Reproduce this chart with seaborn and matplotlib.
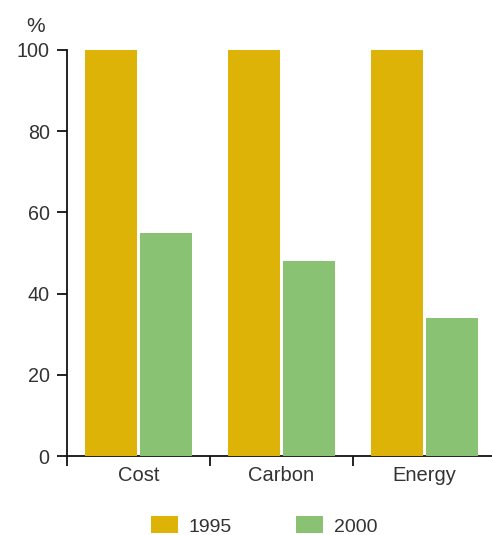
import matplotlib
matplotlib.use("Agg")
import matplotlib.pyplot as plt
import seaborn as sns
import pandas as pd
from matplotlib.patches import Patch
from matplotlib.ticker import FixedLocator

# Indexed values (1995 = 100)
categories = ["Cost", "Carbon", "Energy"]
years = ["1995", "2000"]
values_1995 = [100, 100, 100]
values_2000 = [55, 48, 34]
y_ticks = [0, 20, 40, 60, 80, 100]

palette = {"1995": "#DDB308", "2000": "#89C273"}
text_color = "#333333"

df = pd.DataFrame({
    "category": categories * 2,
    "year": [years[0]] * 3 + [years[1]] * 3,
    "value": values_1995 + values_2000,
})

sns.set_theme(style="white")
plt.rcParams["font.family"] = ["Liberation Sans", "DejaVu Sans"]
plt.rcParams["text.color"] = text_color

fig = plt.figure(figsize=(4.92, 5.35), dpi=100)
ax = fig.add_axes([67 / 492, 79 / 535, 429 / 492, 406 / 535])

sns.barplot(data=df, x="category", y="value", hue="year", order=categories,
            hue_order=years, palette=palette, width=0.762, gap=0.046,
            saturation=1, legend=False, ax=ax, zorder=3, linewidth=0)

ax.set_xlim(-0.5, 2.5)
ax.set_ylim(0, 100)
ax.set_xlabel("")
ax.set_ylabel("")
ax.set_yticks(y_ticks)

for side in ("top", "right"):
    ax.spines[side].set_visible(False)
for side in ("left", "bottom"):
    ax.spines[side].set_color("#111111")
    ax.spines[side].set_linewidth(1.3)

ax.tick_params(axis="y", which="major", direction="out", length=7.5, width=1.3,
               color="#111111", pad=5, labelsize=14.2, labelcolor=text_color, left=True)
ax.tick_params(axis="x", which="major", length=0, pad=7, labelsize=14.5,
               labelcolor=text_color)
ax.xaxis.set_minor_locator(FixedLocator([-0.5, 0.5, 1.5]))
ax.tick_params(axis="x", which="minor", direction="out", length=7, width=1.3,
               color="#111111", bottom=True)

fig.text(36 / 492, 1 - 26 / 535, "%", ha="center", va="center",
         fontsize=15, color=text_color)

handles = [Patch(facecolor=palette[y], edgecolor="none", label=y) for y in years]
fig.legend(handles=handles, loc="center", bbox_to_anchor=(264 / 492, 9 / 535),
           ncol=2, frameon=False, fontsize=14, handlelength=1.4,
           handleheight=0.95, handletextpad=0.55, columnspacing=3.3,
           labelcolor=text_color)

fig.savefig("out.png", dpi=100)
